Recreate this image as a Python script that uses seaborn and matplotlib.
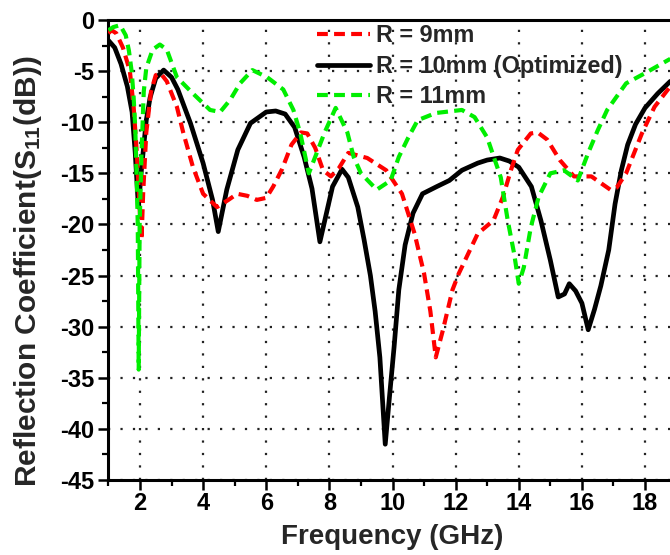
import numpy as np
import pandas as pd
import matplotlib
matplotlib.use("Agg")
import matplotlib.pyplot as plt
import seaborn as sns
from matplotlib.ticker import MultipleLocator

# ---------------- data ----------------
freq_r9 = [1.0, 1.1, 1.25, 1.46, 1.68, 1.8, 1.9, 2.0, 2.05, 2.1, 2.2, 2.35, 2.5, 2.65, 2.85,
           3.17, 3.37, 3.68, 4.0, 4.44, 4.8, 5.08, 5.4, 5.7, 6.0, 6.22, 6.5, 6.8, 7.1, 7.3,
           7.55, 7.8, 8.05, 8.3, 8.6, 9.2, 9.8, 10.3, 10.7, 11.0, 11.2, 11.37, 11.6, 11.9,
           12.1, 12.7, 13.2, 13.5, 13.75, 13.97, 14.38, 14.6, 14.9, 15.3, 15.75, 16.3, 16.9,
           17.1, 17.4, 17.9, 18.3, 18.8]
s11_r9 = [-1.3, -1.0, -1.3, -2.7, -5.0, -8.5, -13.0, -19.0, -21.5, -17.0, -11.0, -7.0, -5.4,
          -5.2, -6.0, -8.5, -11.0, -14.4, -17.0, -18.3, -17.6, -17.0, -17.2, -17.6, -17.4,
          -16.3, -14.6, -12.2, -11.0, -11.1, -12.5, -14.7, -15.3, -14.5, -13.0, -13.5, -14.7,
          -17.0, -20.9, -24.8, -28.5, -33.0, -30.3, -26.4, -24.8, -20.9, -19.6, -17.3, -14.7,
          -12.7, -11.1, -11.0, -11.7, -13.7, -15.3, -15.3, -16.6, -16.4, -15.0, -11.1, -8.5, -6.5]

freq_r10 = [1.0, 1.2, 1.4, 1.6, 1.75, 1.85, 1.95, 2.05, 2.2, 2.32, 2.5, 2.75, 3.0, 3.2, 3.6,
            4.0, 4.3, 4.48, 4.75, 5.1, 5.5, 6.0, 6.3, 6.6, 6.9, 7.2, 7.45, 7.7, 7.9, 8.1, 8.4,
            8.6, 8.9, 9.1, 9.3, 9.45, 9.6, 9.7, 9.77, 9.9, 10.05, 10.2, 10.4, 10.65, 10.95,
            11.4, 11.8, 12.2, 12.7, 13.0, 13.4, 13.7, 14.0, 14.4, 14.7, 15.0, 15.25, 15.45,
            15.6, 15.8, 16.0, 16.2, 16.4, 16.6, 16.85, 17.05, 17.25, 17.45, 17.7, 18.0, 18.4, 18.8]
s11_r10 = [-2.0, -2.7, -4.3, -6.5, -9.0, -13.0, -18.3, -14.5, -9.8, -7.6, -5.7, -4.9, -5.6,
           -6.8, -10.1, -14.0, -17.6, -20.7, -16.6, -12.7, -10.1, -9.0, -8.9, -9.2, -10.5,
           -13.4, -16.5, -21.7, -19.0, -16.3, -14.6, -15.4, -18.3, -21.5, -25.0, -28.5, -33.0,
           -38.0, -41.5, -37.0, -32.0, -26.4, -22.0, -18.9, -17.0, -16.3, -15.7, -14.7, -14.0,
           -13.7, -13.5, -13.8, -14.4, -16.3, -19.6, -23.5, -27.1, -26.8, -25.8, -26.5, -27.7,
           -30.3, -28.3, -26.0, -22.5, -18.0, -14.7, -12.2, -10.2, -8.6, -7.2, -6.0]

freq_r11 = [1.0, 1.15, 1.37, 1.55, 1.65, 1.74, 1.8, 1.85, 1.9, 1.93, 1.96, 1.99, 2.05, 2.12,
            2.2, 2.4, 2.63, 2.85, 3.17, 3.68, 4.22, 4.54, 4.86, 5.17, 5.56, 6.03, 6.54, 6.86,
            7.08, 7.35, 7.6, 7.85, 8.2, 8.57, 8.77, 9.0, 9.5, 9.94, 10.2, 10.5, 10.8, 11.37,
            12.2, 12.6, 13.0, 13.43, 13.65, 13.85, 14.0, 14.16, 14.38, 14.63, 15.0, 15.43,
            15.87, 16.2, 16.5, 16.8, 17.4, 18.0, 18.4, 18.8]
s11_r11 = [-1.0, -0.7, -0.5, -1.5, -3.0, -5.1, -7.6, -10.5, -16.0, -20.0, -34.2, -20.0, -13.0,
           -7.0, -4.7, -2.9, -2.4, -2.9, -5.6, -7.2, -8.8, -9.0, -7.8, -6.2, -4.9, -5.6, -6.8,
           -8.8, -11.1, -15.0, -13.0, -11.0, -8.6, -11.0, -13.4, -15.0, -16.6, -15.7, -13.4,
           -11.5, -9.8, -9.1, -8.8, -9.5, -11.5, -15.4, -19.6, -22.8, -25.8, -24.2, -20.3,
           -17.3, -15.0, -14.7, -15.7, -13.0, -10.8, -8.8, -6.2, -5.2, -4.5, -3.8]

series_labels = ["R = 9mm", "R = 10mm (Optimized)", "R = 11mm"]
xtick_values = [2, 4, 6, 8, 10, 12, 14, 16, 18]
xtick_labels = ["2", "4", "6", "8", "10", "12", "14", "16", "18"]
ytick_values = [0, -5, -10, -15, -20, -25, -30, -35, -40, -45]
ytick_labels = ["0", "-5", "-10", "-15", "-20", "-25", "-30", "-35", "-40", "-45"]

# ---------------- style ----------------
sns.set_style("ticks")
plt.rcParams['font.family'] = ['Liberation Sans', 'DejaVu Sans']
plt.rcParams['font.weight'] = 'bold'
plt.rcParams['axes.labelweight'] = 'bold'
plt.rcParams['axes.unicode_minus'] = False
plt.rcParams['mathtext.fontset'] = 'custom'
plt.rcParams['mathtext.rm'] = 'Liberation Sans:bold'
plt.rcParams['mathtext.it'] = 'Liberation Sans:bold'
plt.rcParams['mathtext.bf'] = 'Liberation Sans:bold'

fig = plt.figure(figsize=(6.7, 5.55), dpi=100)
ax = fig.add_axes([108.4 / 670, 75 / 555, 568.2 / 670, 460 / 555])

df9 = pd.DataFrame({"f": freq_r9, "s": s11_r9})
df10 = pd.DataFrame({"f": freq_r10, "s": s11_r10})
df11 = pd.DataFrame({"f": freq_r11, "s": s11_r11})

dash = (0, (2.6, 1.5))
sns.lineplot(data=df10, x="f", y="s", ax=ax, color="black", lw=3.4, estimator=None,
             zorder=3, label=series_labels[1])
l10 = ax.lines[-1]
sns.lineplot(data=df9, x="f", y="s", ax=ax, color="#FF0000", lw=3.0, estimator=None,
             zorder=4, label=series_labels[0])
l9 = ax.lines[-1]
l9.set_linestyle(dash)
sns.lineplot(data=df11, x="f", y="s", ax=ax, color="#00EE00", lw=3.0, estimator=None,
             zorder=5, label=series_labels[2])
l11 = ax.lines[-1]
l11.set_linestyle(dash)
for ln in (l9, l10, l11):
    ln.set_solid_joinstyle('round')
    ln.set_dash_joinstyle('round')
    ln.set_solid_capstyle('round')

ax.set_xlim(1, 19)
ax.set_ylim(-45, 0)
ax.set_xticks(xtick_values)
ax.set_xticklabels(xtick_labels)
ax.set_yticks(ytick_values)
ax.set_yticklabels(ytick_labels)
ax.xaxis.set_minor_locator(MultipleLocator(1))
ax.yaxis.set_minor_locator(MultipleLocator(2.5))

ax.grid(True, which='major', linestyle=(0, (1, 4.6)), color='#222222', lw=1.6)
ax.set_axisbelow(True)

for s in ax.spines.values():
    s.set_linewidth(2.2)
    s.set_color('black')

ax.tick_params(which='major', direction='out', length=7, width=1.8, labelsize=17,
               pad=2, colors='black')
ax.tick_params(which='minor', direction='out', length=4.5, width=1.6, colors='black')
ax.tick_params(axis='y', which='major', pad=3)

ax.set_xlabel("Frequency (GHz)", fontsize=20, fontweight='bold')
ax.set_ylabel("Reflection Coefficient(S$_{11}$(dB))", fontsize=21.5, fontweight='bold')
ax.xaxis.set_label_coords(0.5, -0.095)
ax.yaxis.set_label_coords(-0.113, 0.453)

leg = ax.legend(handles=[l9, l10, l11], labels=series_labels, loc='upper left',
                bbox_to_anchor=(317 / 670, 1 - 24 / 555), bbox_transform=fig.transFigure,
                frameon=False, borderpad=0, borderaxespad=0, handlelength=2.25,
                handletextpad=0.3, labelspacing=0.33, prop={'size': 16.8, 'weight': 'bold'})

fig.savefig("out.png", dpi=100)
